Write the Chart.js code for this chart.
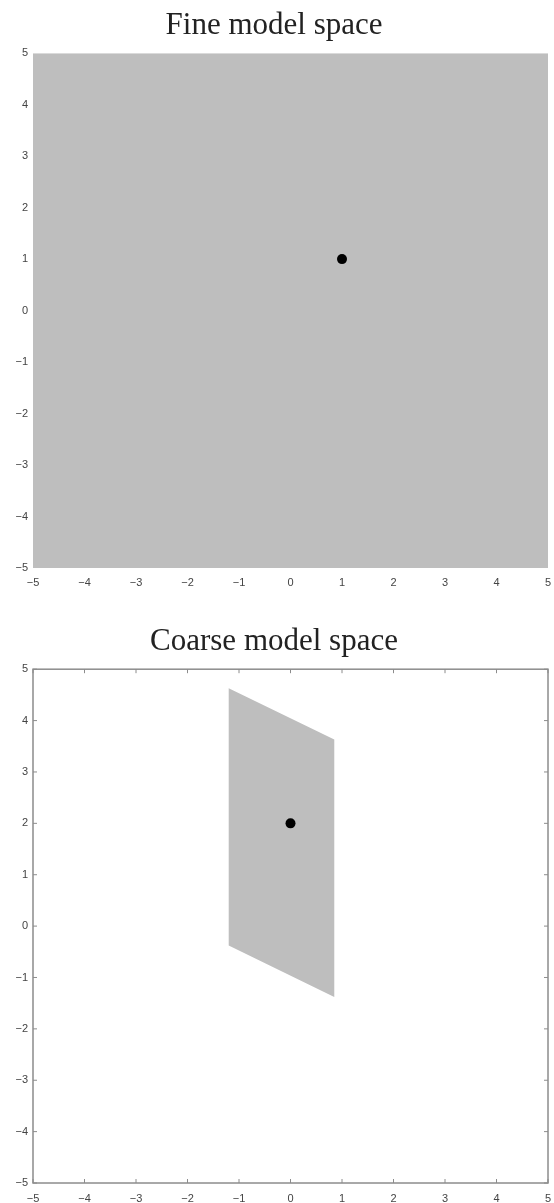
<!DOCTYPE html>
<html>
<head>
<meta charset="utf-8">
<script src="https://cdn.jsdelivr.net/npm/chart.js@4.4.0/dist/chart.umd.min.js"></script>
<style>
  html, body { margin: 0; padding: 0; background: #fff; }
  canvas { display: block; }
</style>
</head>
<body>
<canvas id="fine-chart" width="554" height="600"></canvas>
<canvas id="coarse-chart" width="554" height="603"></canvas>
<script>
'use strict';

/** Data */
let axisMin = -5;
let axisMax = 5;

// fine model: whole square is feasible
let fineRegionX = [-5, 5, 5, -5, -5];
let fineRegionY = [-5, -5, 5, 5, -5];
let fineOptX = [1];
let fineOptY = [1];

// coarse model: parallelogram
let coarseRegionX = [-1.2, 0.85, 0.85, -1.2, -1.2];
let coarseRegionY = [4.63, 3.63, -1.38, -0.38, 4.63];
let coarseOptX = [0];
let coarseOptY = [2];

let titles = ['Fine model space', 'Coarse model space'];

/** Helpers */
function toPoints(xs, ys) {
  let pts = [];
  for (let i = 0; i < xs.length; i++) {
    pts.push({ x: xs[i], y: ys[i] });
  }
  return pts;
}

function tickLabel(value) {
  return String(value).replace('-', '\u2212');
}

// frame + inward tick marks, like the matlab axes box
let boxTicks = {
  id: 'boxTicks',
  afterDatasetsDraw(chart, args, opts) {
    if (!opts.show) return;
    let ctx = chart.ctx;
    let area = chart.chartArea;
    let xs = chart.scales.x;
    let ys = chart.scales.y;
    ctx.save();
    ctx.strokeStyle = '#8c8c8c';
    ctx.lineWidth = 1.5;
    ctx.strokeRect(area.left, area.top, area.right - area.left, area.bottom - area.top);
    ctx.lineWidth = 1;
    ctx.beginPath();
    xs.ticks.forEach(t => {
      let px = xs.getPixelForValue(t.value);
      ctx.moveTo(px, area.bottom);
      ctx.lineTo(px, area.bottom - 4);
      ctx.moveTo(px, area.top);
      ctx.lineTo(px, area.top + 4);
    });
    ys.ticks.forEach(t => {
      let py = ys.getPixelForValue(t.value);
      ctx.moveTo(area.left, py);
      ctx.lineTo(area.left + 4, py);
      ctx.moveTo(area.right, py);
      ctx.lineTo(area.right - 4, py);
    });
    ctx.stroke();
    ctx.restore();
  }
};

function buildChart(canvasId, title, regionX, regionY, optX, optY, cfg) {
  let ctx = document.getElementById(canvasId);
  return new Chart(ctx, {
    type: 'scatter',
    data: {
      datasets: [
        {
          data: toPoints(optX, optY),
          pointRadius: 5,
          pointBackgroundColor: '#000',
          pointBorderWidth: 0,
          order: 1
        },
        {
          data: toPoints(regionX, regionY),
          showLine: true,
          fill: 'shape',
          backgroundColor: '#bebebe',
          borderColor: '#bebebe',
          borderWidth: 0,
          pointRadius: 0,
          order: 2
        }
      ]
    },
    options: {
      responsive: false,
      animation: false,
      devicePixelRatio: 1,
      layout: { padding: { left: 0, right: 6, top: 0, bottom: 0 } },
      plugins: {
        legend: { display: false },
        tooltip: { enabled: false },
        title: {
          display: true,
          text: title,
          color: '#222',
          font: { family: 'Liberation Serif', size: 31, weight: 'normal' },
          padding: cfg.titlePad
        },
        boxTicks: { show: cfg.box }
      },
      scales: {
        x: {
          type: 'linear',
          min: axisMin,
          max: axisMax,
          grid: { display: false, drawTicks: false },
          border: { display: false },
          ticks: {
            stepSize: 1,
            padding: cfg.xPad,
            color: '#444',
            font: { family: 'Liberation Sans', size: 11 },
            callback: tickLabel
          },
          afterFit(scale) {
            scale.height = cfg.xHeight;
            scale.paddingLeft = 0;
            scale.paddingRight = 0;
          }
        },
        y: {
          type: 'linear',
          min: axisMin,
          max: axisMax,
          grid: { display: false, drawTicks: false },
          border: { display: false },
          ticks: {
            stepSize: 1,
            padding: 5,
            color: '#444',
            font: { family: 'Liberation Sans', size: 11 },
            callback: tickLabel
          },
          afterFit(scale) { scale.width = 33; }
        }
      }
    },
    plugins: [boxTicks]
  });
}

/** Executables */
buildChart('fine-chart', titles[0], fineRegionX, fineRegionY, fineOptX, fineOptY,
  { titlePad: { top: 7, bottom: 9 }, xHeight: 32, xPad: 8, box: false });
buildChart('coarse-chart', titles[1], coarseRegionX, coarseRegionY, coarseOptX, coarseOptY,
  { titlePad: { top: 23, bottom: 9 }, xHeight: 20, xPad: 9, box: true });
</script>
</body>
</html>
